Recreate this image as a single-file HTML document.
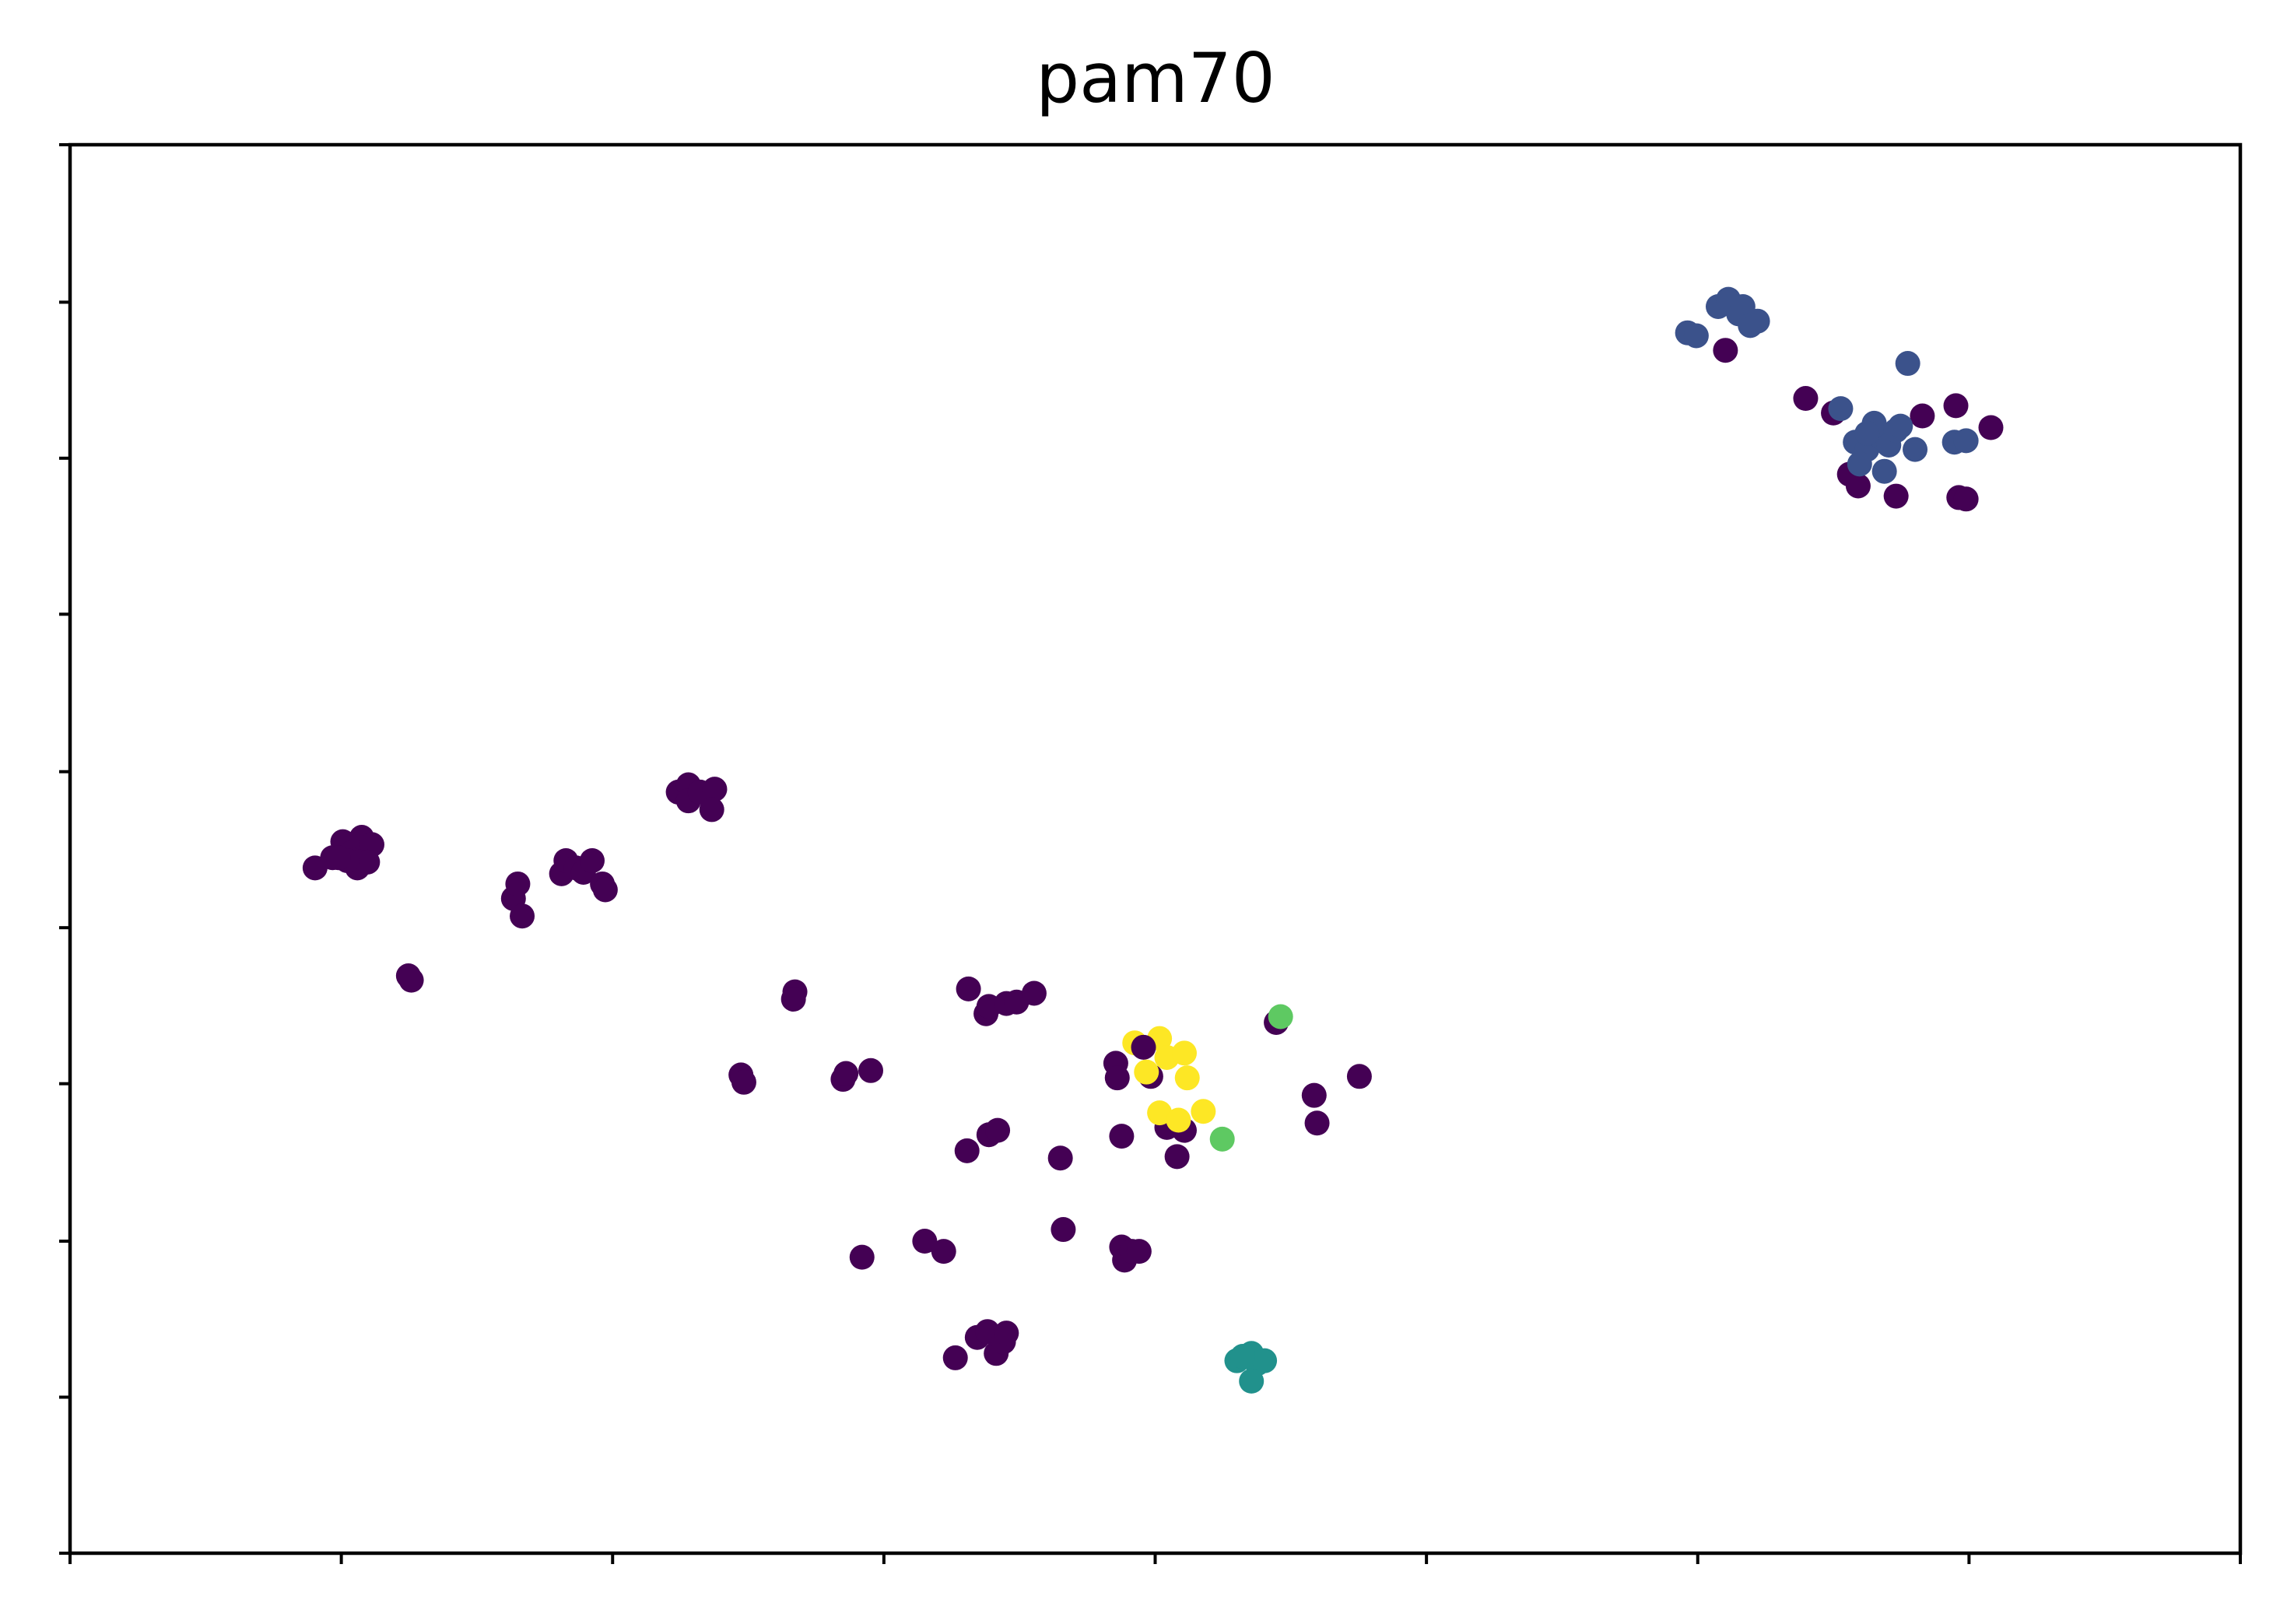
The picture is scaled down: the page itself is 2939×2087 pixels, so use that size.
<!DOCTYPE html>
<html><head><meta charset="utf-8"><style>
html,body{margin:0;padding:0;background:#fff;}
svg{display:block;}
</style></head><body>
<svg id="chart" width="2939" height="2087" viewBox="0 0 2939 2087" xmlns="http://www.w3.org/2000/svg">
<rect width="2939" height="2087" fill="#fff"/>
<text x="1485" y="131" text-anchor="middle" font-family="DejaVu Sans, Liberation Sans, sans-serif" font-size="88" fill="#000">pam70</text>
<g id="marks"></g>
<g id="axes"></g>
</svg>
<script>
// Unlabeled axis domains (arbitrary units)
const xDomain = [48, 1536];
const yDomain = [1065, 99];
const xTicks = [48,234,420,606,792,978,1164,1350,1536];
const yTicks = [99,207,314,421,529,636,743,851,958,1065];
// cluster series: [x, y] pairs
const purplePts = [[216,595],[228,588],[235,577],[240,585],[248,574],[255,579],[245,595],[252,591],[238,590],[232,588],
[280,669],[282,672],[352,616],[355,606],[358,628],[385,599],[388,590],[395,595],[400,598],[406,590],[413,606],[415,610],
[465,543],[472,538],[472,549],[480,543],[490,541],[488,555],
[508,737],[510,742],[545,680],[544,685],[578,740],[580,736],[597,734],
[664,678],[676,695],[678,690],[690,688],[697,687],[709,681],
[663,789],[678,778],[684,775],[727,794],[729,843],[591,862],[634,851],[647,858],
[655,931],[670,917],[677,913],[683,928],[688,920],[690,914],
[765,729],[766,739],[769,779],[769,855],[771,864],[776,858],[781,858],[789,738],[800,773],[807,793],[812,775],
[875,701],[901,751],[903,770],[932,738],
[1183,240],[1238,273],[1257,283],[1268,325],[1274,333],[1300,340],[1318,285],[1341,278],[1365,293],[1343,341],[1348,342]];
const bluePts = [[1157,228],[1163,230],[1178,210],[1185,205],[1192,215],[1195,210],[1200,223],[1205,220],[1308,249],[1262,280],
[1285,290],[1272,303],[1280,308],[1290,300],[1295,305],[1300,295],[1303,292],[1275,318],[1292,323],[1313,308],[1340,303],[1348,302],[1280,297]];
const tealPts = [[848,933],[858,928],[862,935],[867,933],[858,947],[852,930]];
const greenPts = [[878,697],[838,781]];
const yellowPts = [[778,715],[786,735],[795,712],[800,725],[812,722],[814,739],[795,763],[808,768],[825,762]];
const topPurplePts = [[784,718]];

const L=90, R=2879, T=186, B=1996;
const sx = v => L + (v - xDomain[0]) / (xDomain[1] - xDomain[0]) * (R - L);
const sy = v => T + (v - yDomain[1]) / (yDomain[0] - yDomain[1]) * (B - T);
const NS="http://www.w3.org/2000/svg";
const marks=document.getElementById('marks');
function draw(pts,color,name){
  pts.forEach(p=>{
    const c=document.createElementNS(NS,'circle');
    c.setAttribute('cx',sx(p[0]));c.setAttribute('cy',sy(p[1]));c.setAttribute('r',16);
    c.setAttribute('fill',color);
    
    
    marks.appendChild(c);
  });
}
draw(purplePts,'#440154','point-cluster-0');
draw(bluePts,'#3b528b','point-cluster-1');
draw(tealPts,'#21918c','point-cluster-2');
draw(greenPts,'#5ec962','point-cluster-3');
draw(yellowPts,'#fde725','point-cluster-4');
draw(topPurplePts,'#440154','point-cluster-0');

const axes=document.getElementById('axes');
const frame=document.createElementNS(NS,'rect');
frame.setAttribute('x',L);frame.setAttribute('y',T);frame.setAttribute('width',R-L);frame.setAttribute('height',B-T);
frame.setAttribute('fill','none');frame.setAttribute('stroke','#000');frame.setAttribute('stroke-width',4.5);


axes.appendChild(frame);
function line(x1,y1,x2,y2,name){
  const l=document.createElementNS(NS,'line');
  l.setAttribute('x1',x1);l.setAttribute('y1',y1);l.setAttribute('x2',x2);l.setAttribute('y2',y2);
  l.setAttribute('stroke','#000');l.setAttribute('stroke-width',4);
  
  
  axes.appendChild(l);
}
xTicks.forEach(v=>line(sx(v),B,sx(v),B+14,'x-tick'));
yTicks.forEach(v=>line(L,sy(v),L-14,sy(v),'y-tick'));
</script>
</body></html>
